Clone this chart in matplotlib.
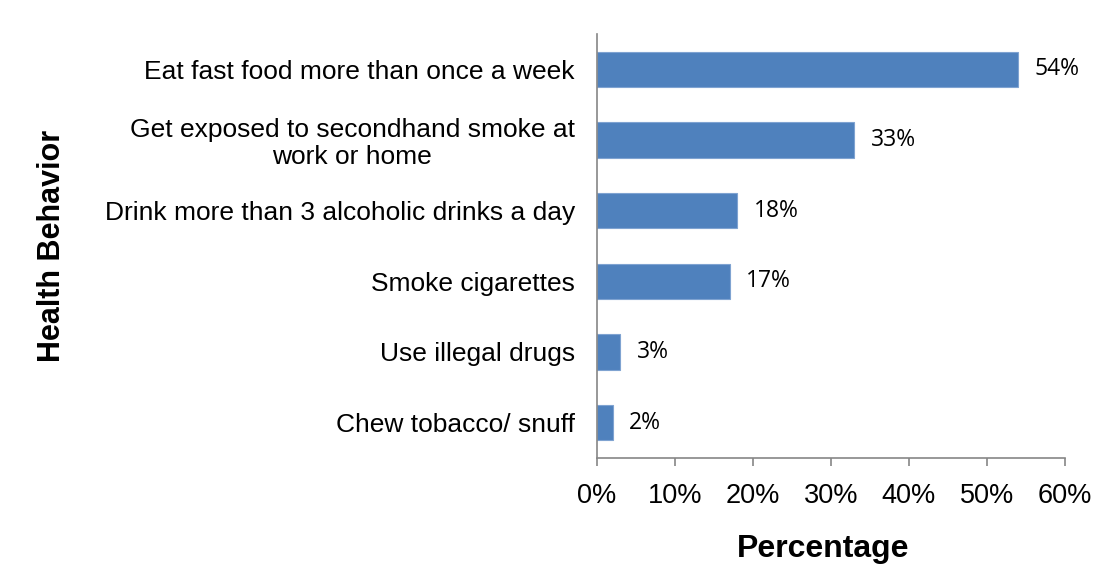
import matplotlib
matplotlib.use("Agg")
import matplotlib.pyplot as plt
from matplotlib.ticker import FuncFormatter

categories = [
    "Eat fast food more than once a week",
    "Get exposed to secondhand smoke at\nwork or home",
    "Drink more than 3 alcoholic drinks a day",
    "Smoke cigarettes",
    "Use illegal drugs",
    "Chew tobacco/ snuff",
]
values = [54, 33, 18, 17, 3, 2]
value_labels = ["54%", "33%", "18%", "17%", "3%", "2%"]
xticks = [0, 10, 20, 30, 40, 50, 60]

fig = plt.figure(figsize=(11.12, 5.81), dpi=100)
ax = fig.add_axes([0.5369, 0.2117, 0.4208, 0.7298])

ypos = list(range(len(categories)))
ax.barh(ypos, values, height=0.5, color="#4F81BD", edgecolor="#7FA3D1", linewidth=0.8)
ax.set_ylim(len(categories) - 0.5, -0.5)
ax.set_xlim(0, 60)
ax.set_yticks(ypos)
ax.set_yticklabels(categories, fontsize=19, family="Liberation Sans", linespacing=1.15)
for lab in ax.get_yticklabels():
    lab.set_multialignment("center")
ax.tick_params(axis="y", length=0, pad=16)

ax.set_xticks(xticks)
ax.xaxis.set_major_formatter(FuncFormatter(lambda v, p: f"{int(v)}%"))
ax.tick_params(axis="x", direction="out", length=6, width=1.2, color="#868686",
               labelsize=19.5, pad=12)
for lab in ax.get_xticklabels():
    lab.set_family("Liberation Sans")

for s in ["top", "right"]:
    ax.spines[s].set_visible(False)
for s in ["left", "bottom"]:
    ax.spines[s].set_color("#868686")
    ax.spines[s].set_linewidth(1.2)

for y, v, t in zip(ypos, values, value_labels):
    ax.annotate(t, xy=(v, y), xytext=(12, 0), textcoords="offset points",
                va="center", ha="left", fontsize=16.5, family="Open Sans", color="#000000")

fig.text(0.740, 0.055, "Percentage", ha="center", va="center", fontsize=23,
         fontweight="bold", family="Liberation Sans")
fig.text(0.047, 0.577, "Health Behavior", ha="center", va="center", rotation=90,
         fontsize=22, fontweight="bold", family="Liberation Sans")

fig.savefig("out.png", dpi=100)
